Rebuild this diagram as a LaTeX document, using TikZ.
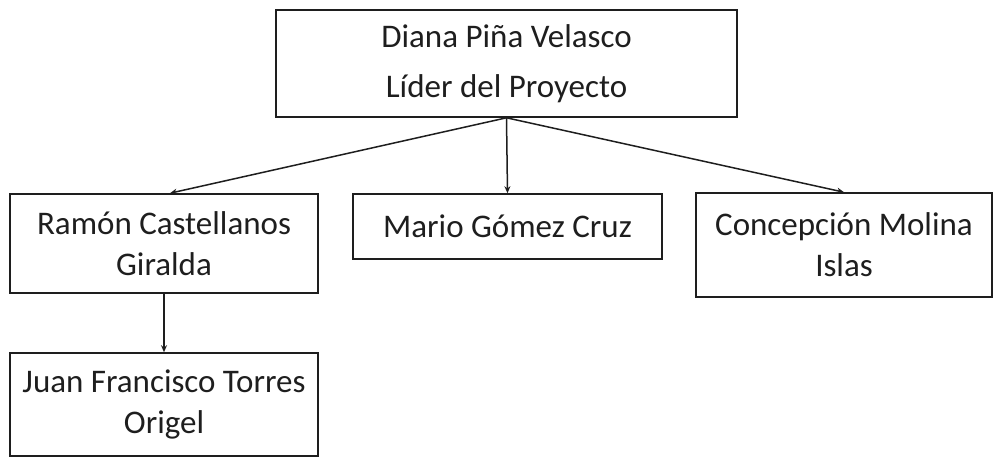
\documentclass[tikz,border=0pt]{standalone}
\usepackage{fontspec}
\setmainfont{Carlito}
\usetikzlibrary{arrows.meta}
\definecolor{ink}{HTML}{1E1E1E}
\begin{document}
\begin{tikzpicture}[x=1pt,y=1pt,
  box/.style={draw=ink, line width=1.6pt, rectangle, align=center, inner sep=0pt, text=ink, font=\fontsize{33}{41}\selectfont},
  link/.style={draw=ink, line width=1.5pt, -{Stealth[length=7pt,width=6pt]}}]
\useasboundingbox (0,0) rectangle (993,-457);
\node[box, minimum width=461, minimum height=107, font=\fontsize{33}{50}\selectfont] (top) at (506.5,-63.5) {Diana Piña Velasco\\Líder del Proyecto};
\node[box, minimum width=308, minimum height=99] (ramon) at (164,-243.5) {Ramón Castellanos\\Giralda};
\node[box, minimum width=309, minimum height=65] (mario) at (507.5,-226.5) {Mario Gómez Cruz};
\node[box, minimum width=296, minimum height=104] (conc) at (844,-245) {Concepción Molina\\Islas};
\node[box, minimum width=308, minimum height=103] (juan) at (164,-404.5) {Juan Francisco Torres\\Origel};
\coordinate (ramontop) at ([xshift=6pt]ramon.north);
\draw[link] (top.south) -- (ramontop);
\draw[link] (top.south) -- (mario.north);
\draw[link] (top.south) -- (conc.north);
\draw[link] (ramon.south) -- (juan.north);
\end{tikzpicture}
\end{document}
